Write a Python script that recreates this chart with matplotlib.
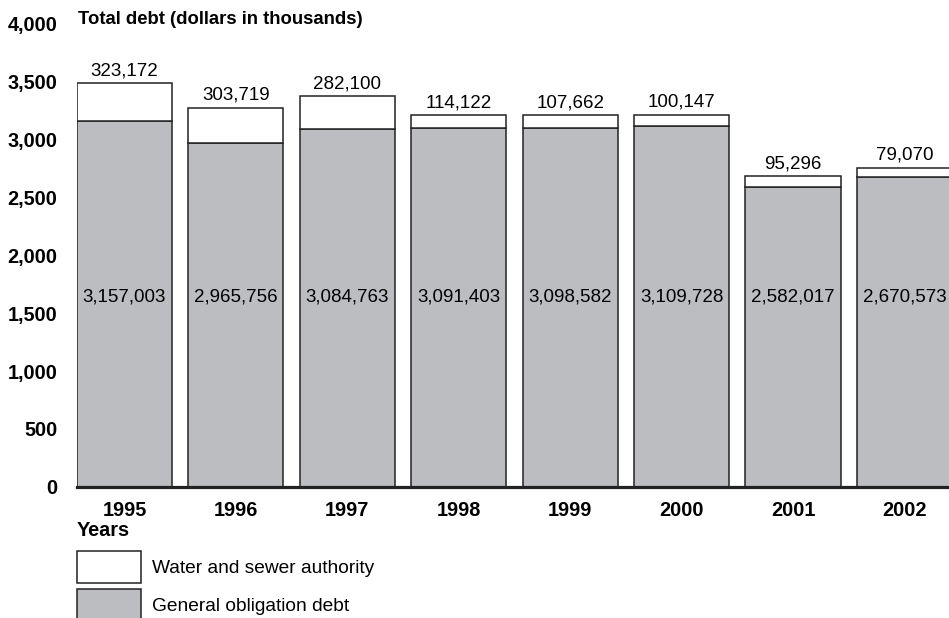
import matplotlib.pyplot as plt
from matplotlib.patches import Patch

plt.rcParams['font.family'] = ['Liberation Sans', 'DejaVu Sans']

# values in thousands of dollars
years = ['1995', '1996', '1997', '1998', '1999', '2000', '2001', '2002']
general = [3157003, 2965756, 3084763, 3091403, 3098582, 3109728, 2582017, 2670573]
water = [323172, 303719, 282100, 114122, 107662, 100147, 95296, 79070]
yticks = [0, 500, 1000, 1500, 2000, 2500, 3000, 3500, 4000]

gray = '#bcbdc1'
edge = '#222222'
fs = 13.5
fs_tick = 14.3

fig = plt.figure(figsize=(9.49, 6.18), dpi=100)
ax = fig.add_axes([77 / 949, 131 / 618, 872 / 949, 464 / 618])

x = range(len(years))
gen_m = [g / 1000 for g in general]
wat_m = [w / 1000 for w in water]
width = 0.853
ax.bar(x, gen_m, width=width, color=gray, edgecolor=edge, linewidth=1.1, zorder=2)
ax.bar(x, wat_m, width=width, bottom=gen_m, color='white', edgecolor=edge, linewidth=1.1, zorder=2)

for i in x:
    ax.text(i, 1640, f'{general[i]:,}', ha='center', va='center', fontsize=fs)
    ax.text(i, gen_m[i] + wat_m[i] + 35, f'{water[i]:,}', ha='center', va='bottom', fontsize=fs)

ax.set_xlim(-width / 2, 7.40)
ax.set_ylim(0, 4000)
ax.set_yticks(yticks)
ax.set_yticklabels([f'{t:,}' for t in yticks], fontsize=fs_tick, fontweight='bold')
ax.set_xticks(list(x))
ax.set_xticklabels(years, fontsize=fs_tick, fontweight='bold')
ax.tick_params(length=0, pad=10)
ax.tick_params(axis='y', pad=14)
for s in ['top', 'right', 'left']:
    ax.spines[s].set_visible(False)
ax.spines['bottom'].set_linewidth(2.3)
ax.spines['bottom'].set_color(edge)
ax.spines['bottom'].set_zorder(3)

fig.text(78 / 949, 1 - 20 / 618, 'Total debt (dollars in thousands)', fontsize=13.3,
         fontweight='bold', va='center', ha='left')
fig.text(77 / 949, 1 - 531 / 618, 'Years', fontsize=fs_tick, fontweight='bold', va='center', ha='left')

handles = [Patch(facecolor='white', edgecolor=edge, linewidth=1.1),
           Patch(facecolor=gray, edgecolor=edge, linewidth=1.1)]
fig.legend(handles, ['Water and sewer authority', 'General obligation debt'],
           loc='upper left', bbox_to_anchor=(77 / 949, 1 - 551 / 618), frameon=False,
           borderpad=0, borderaxespad=0, fontsize=13.8, handlelength=3.35,
           handleheight=2.2, labelspacing=0.33, handletextpad=0.55)

fig.savefig('out.png', dpi=100)
